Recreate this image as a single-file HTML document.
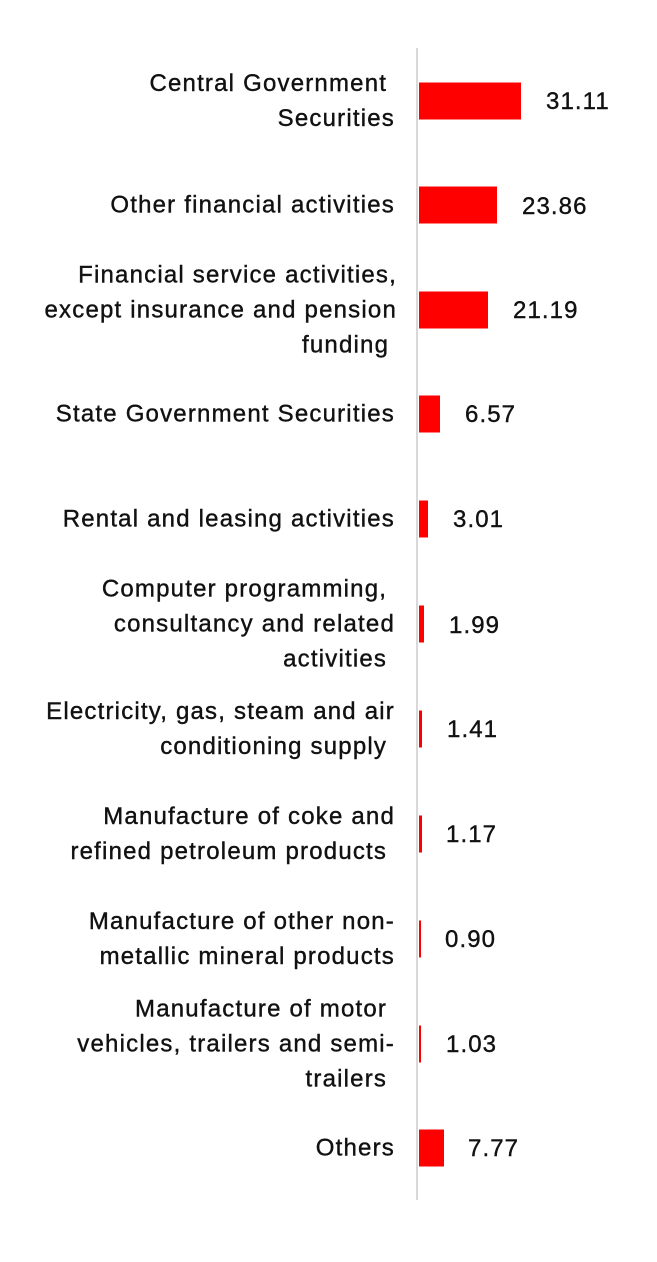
<!DOCTYPE html>
<html><head><meta charset="utf-8"><style>
body{margin:0;width:657px;height:1262px;background:#fff;position:relative;font-family:"Liberation Sans",Arial,sans-serif;color:#111;overflow:hidden}
.ax{position:absolute;left:416px;top:48px;width:2px;height:1152px;background:#d9d9d9}
.lab{position:absolute;right:262px;width:420px;text-align:right;font-size:24px;letter-spacing:1.2px;line-height:35px;transform:translateY(-50%);-webkit-text-stroke:0.4px #111;white-space:nowrap}
.bar{position:absolute;left:419px;height:37px;background:#ff0000;transform:translateY(-50%)}
.val{position:absolute;font-size:24px;letter-spacing:1.1px;line-height:30px;transform:translateY(-50%);-webkit-text-stroke:0.4px #111}
</style></head><body>
<div class="ax"></div>

<div class="lab" style="top:101px">Central Government&nbsp;<br>Securities</div>
<div class="bar" style="top:101px;width:102px"></div>
<div class="val" style="top:102px;left:546px">31.11</div>

<div class="lab" style="top:205px">Other financial activities</div>
<div class="bar" style="top:205px;width:78px"></div>
<div class="val" style="top:207px;left:522px">23.86</div>

<div class="lab" style="top:310px;right:260px">Financial service activities,<br>except insurance and pension<br>funding&nbsp;</div>
<div class="bar" style="top:310px;width:69px"></div>
<div class="val" style="top:311px;left:513px">21.19</div>

<div class="lab" style="top:414px">State Government Securities</div>
<div class="bar" style="top:414px;width:21px"></div>
<div class="val" style="top:415px;left:465px">6.57</div>

<div class="lab" style="top:519px">Rental and leasing activities</div>
<div class="bar" style="top:519px;width:9px"></div>
<div class="val" style="top:520px;left:453px">3.01</div>

<div class="lab" style="top:624px">Computer programming,&nbsp;<br>consultancy and related<br>activities&nbsp;</div>
<div class="bar" style="top:624px;width:5px"></div>
<div class="val" style="top:626px;left:449px">1.99</div>

<div class="lab" style="top:729px">Electricity, gas, steam and air<br>conditioning supply&nbsp;</div>
<div class="bar" style="top:729px;width:3px"></div>
<div class="val" style="top:730px;left:447px">1.41</div>

<div class="lab" style="top:834px">Manufacture of coke and<br>refined petroleum products&nbsp;</div>
<div class="bar" style="top:834px;width:3px"></div>
<div class="val" style="top:835px;left:446px">1.17</div>

<div class="lab" style="top:939px">Manufacture of other non-<br>metallic mineral products</div>
<div class="bar" style="top:939px;width:2px"></div>
<div class="val" style="top:940px;left:445px">0.90</div>

<div class="lab" style="top:1044px">Manufacture of motor&nbsp;<br>vehicles, trailers and semi-<br>trailers&nbsp;</div>
<div class="bar" style="top:1044px;width:2px"></div>
<div class="val" style="top:1045px;left:446px">1.03</div>

<div class="lab" style="top:1148px">Others</div>
<div class="bar" style="top:1148px;width:25px"></div>
<div class="val" style="top:1149px;left:468px">7.77</div>
</body></html>
